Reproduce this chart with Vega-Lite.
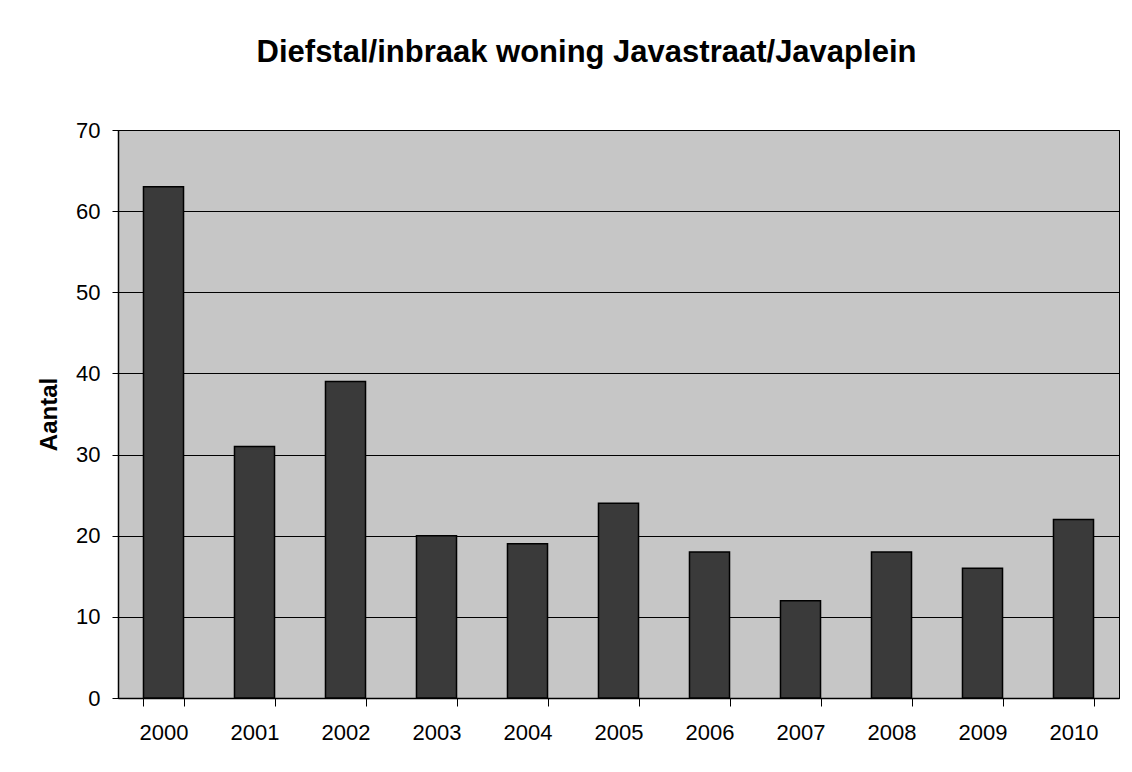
{
  "$schema": "https://vega.github.io/schema/vega-lite/v6.json",
  "autosize": {"type": "none"},
  "width": 1001,
  "height": 568,
  "padding": {"left": 118, "top": 130, "right": 13, "bottom": 74},
  "background": "#ffffff",
  "title": {
    "text": "Diefstal/inbraak woning Javastraat/Javaplein",
    "font": "Liberation Sans",
    "fontSize": 31,
    "fontWeight": "bold",
    "color": "#000000",
    "anchor": "middle",
    "dx": -32,
    "offset": 50
  },
  "config": {
    "view": {"fill": "#c6c6c6", "stroke": "#000000", "strokeWidth": 1},
    "axis": {"labelFont": "Liberation Sans", "titleFont": "Liberation Sans", "labelColor": "#000000", "titleColor": "#000000", "domainColor": "#000000", "tickColor": "#000000", "gridColor": "#000000"}
  },
  "data": {
    "values": [
      {"jaar": "2000", "aantal": 63},
      {"jaar": "2001", "aantal": 31},
      {"jaar": "2002", "aantal": 39},
      {"jaar": "2003", "aantal": 20},
      {"jaar": "2004", "aantal": 19},
      {"jaar": "2005", "aantal": 24},
      {"jaar": "2006", "aantal": 18},
      {"jaar": "2007", "aantal": 12},
      {"jaar": "2008", "aantal": 18},
      {"jaar": "2009", "aantal": 16},
      {"jaar": "2010", "aantal": 22}
    ]
  },
  "mark": {"type": "bar", "color": "#3a3a3a", "stroke": "#000000", "strokeWidth": 1.5},
  "encoding": {
    "x": {
      "field": "jaar",
      "type": "ordinal",
      "scale": {"paddingInner": 0.56, "paddingOuter": 0.28},
      "axis": {
        "title": null,
        "labelAngle": 0,
        "labelFontSize": 22,
        "labelPadding": 16,
        "tickBand": "extent",
        "tickSize": 8,
        "domainWidth": 1.5,
        "grid": false
      }
    },
    "y": {
      "field": "aantal",
      "type": "quantitative",
      "scale": {"domain": [0, 70], "nice": false},
      "axis": {
        "title": "Aantal",
        "titleFontSize": 24,
        "titleFontWeight": "bold",
        "titlePadding": 14,
        "values": [0, 10, 20, 30, 40, 50, 60, 70],
        "labelFontSize": 22,
        "labelPadding": 12,
        "tickSize": 6,
        "grid": true,
        "gridWidth": 1,
        "domainWidth": 1.5
      }
    }
  }
}
